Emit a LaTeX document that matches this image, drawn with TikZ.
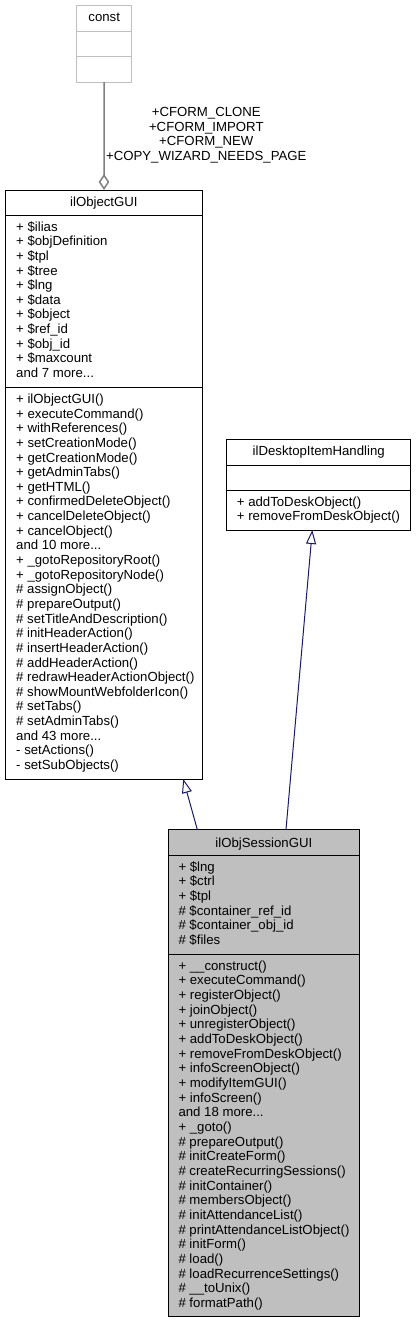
\documentclass[tikz,border=0pt]{standalone}
\usepackage{fontspec}
\setmainfont{Liberation Sans}
\usetikzlibrary{arrows.meta}
\definecolor{edgeblue}{HTML}{191970}
\definecolor{boxgray}{HTML}{BFBFBF}
\definecolor{usegray}{HTML}{808080}
\definecolor{constgray}{HTML}{BFBFBF}
\newcommand\mydots{...}
\begin{document}
\begin{tikzpicture}[x=1pt,y=-1pt,
  box/.style={draw=black, line width=1pt, inner sep=0pt, outer sep=0pt, anchor=north west},
  txt/.style={inner sep=0pt, anchor=base west, font=\fontsize{13.2}{14.65}\selectfont},
  ttl/.style={inner sep=0pt, anchor=base, font=\fontsize{13.2}{14.65}\selectfont},
  sepline/.style={draw=black, line width=1pt},
  inh/.style={draw=edgeblue, line width=1pt, -{Triangle[open, length=14pt, width=10pt]}},
  use/.style={draw=usegray, line width=1.5pt, -{Diamond[open, length=16pt, width=10.6pt]}},
]
\useasboundingbox (0,0) rectangle (416,1323);

% const
\node[box, draw=constgray, minimum width=55pt, minimum height=76.3pt] (const) at (76.7,5.7) {};
\draw[draw=constgray, line width=1pt] (const.west |- 0,31.3) -- (const.east |- 0,31.3);
\draw[draw=constgray, line width=1pt] (const.west |- 0,56.7) -- (const.east |- 0,56.7);
\node[ttl] (constt) at (104.2,21.8) {const};

% ilObjectGUI
\node[box, fill=white, minimum width=197.7pt, minimum height=589pt] (objgui) at (5,190) {};
\draw[sepline] (objgui.west |- 0,215) -- (objgui.east |- 0,215);
\draw[sepline] (objgui.west |- 0,387.3) -- (objgui.east |- 0,387.3);
\node[ttl] (objguit) at (103.9,206) {ilObjectGUI};
\foreach \t [count=\i] in {+ \$ilias, + \$objDefinition, + \$tpl, + \$tree, + \$lng, + \$data, + \$object, + \$ref\_id, + \$obj\_id, + \$maxcount, and 7 more\mydots}
  \node[txt] (oa\i) at (16,{231.2+(\i-1)*14.63}) {\t};
\foreach \t [count=\i] in {+ ilObjectGUI(), + executeCommand(), + withReferences(), + setCreationMode(), + getCreationMode(), + getAdminTabs(), + getHTML(), + confirmedDeleteObject(), + cancelDeleteObject(), + cancelObject(), and 10 more\mydots, + \_gotoRepositoryRoot(), + \_gotoRepositoryNode(), \# assignObject(), \# prepareOutput(), \# setTitleAndDescription(), \# initHeaderAction(), \# insertHeaderAction(), \# addHeaderAction(), \# redrawHeaderActionObject(), \# showMountWebfolderIcon(), \# setTabs(), \# setAdminTabs(), and 43 more\mydots, - setActions(), - setSubObjects()}
  \node[txt] (om\i) at (16,{403.5+(\i-1)*14.64}) {\t};

% ilDesktopItemHandling
\node[box, fill=white, minimum width=184pt, minimum height=90.7pt] (desk) at (226.7,439.3) {};
\draw[sepline] (desk.west |- 0,465) -- (desk.east |- 0,465);
\draw[sepline] (desk.west |- 0,490) -- (desk.east |- 0,490);
\node[ttl] (deskt) at (318.7,455.2) {ilDesktopItemHandling};
\foreach \t [count=\i] in {+ addToDeskObject(), + removeFromDeskObject()}
  \node[txt] (dm\i) at (236.7,{506.2+(\i-1)*14.65}) {\t};

% ilObjSessionGUI
\node[box, fill=boxgray, minimum width=190.7pt, minimum height=486.5pt] (sess) at (168.5,829.5) {};
\draw[sepline] (sess.west |- 0,855.7) -- (sess.east |- 0,855.7);
\draw[sepline] (sess.west |- 0,954) -- (sess.east |- 0,954);
\node[ttl] (sesst) at (263.9,847.2) {ilObjSessionGUI};
\foreach \t [count=\i] in {+ \$lng, + \$ctrl, + \$tpl, \# \$container\_ref\_id, \# \$container\_obj\_id, \# \$files}
  \node[txt] (sa\i) at (178.3,{871.2+(\i-1)*14.66}) {\t};
\foreach \t [count=\i] in {+ \_\_construct(), + executeCommand(), + registerObject(), + joinObject(), + unregisterObject(), + addToDeskObject(), + removeFromDeskObject(), + infoScreenObject(), + modifyItemGUI(), + infoScreen(), and 18 more\mydots, + \_goto(), \# prepareOutput(), \# initCreateForm(), \# createRecurringSessions(), \# initContainer(), \# membersObject(), \# initAttendanceList(), \# printAttendanceListObject(), \# initForm(), \# load(), \# loadRecurrenceSettings(), \# \_\_toUnix(), \# formatPath()}
  \node[txt] (sm\i) at (178.3,{970.2+(\i-1)*14.67}) {\t};

% edges
\draw[inh] ([xshift=28.8pt]sess.north west) -- ([xshift=178.2pt]objgui.south west);
\draw[inh] ([xshift=117.5pt]sess.north west) -- ([xshift=85.6pt]desk.south west);
\draw[use] (const.south) -- ([xshift=99pt]objgui.north west);
\foreach \t [count=\i] in {+CFORM\_CLONE, +CFORM\_IMPORT, +CFORM\_NEW, +COPY\_WIZARD\_NEEDS\_PAGE}
  \node[ttl] (el\i) at (206.3,{116.8+(\i-1)*14.5}) {\t};
\end{tikzpicture}
\end{document}
